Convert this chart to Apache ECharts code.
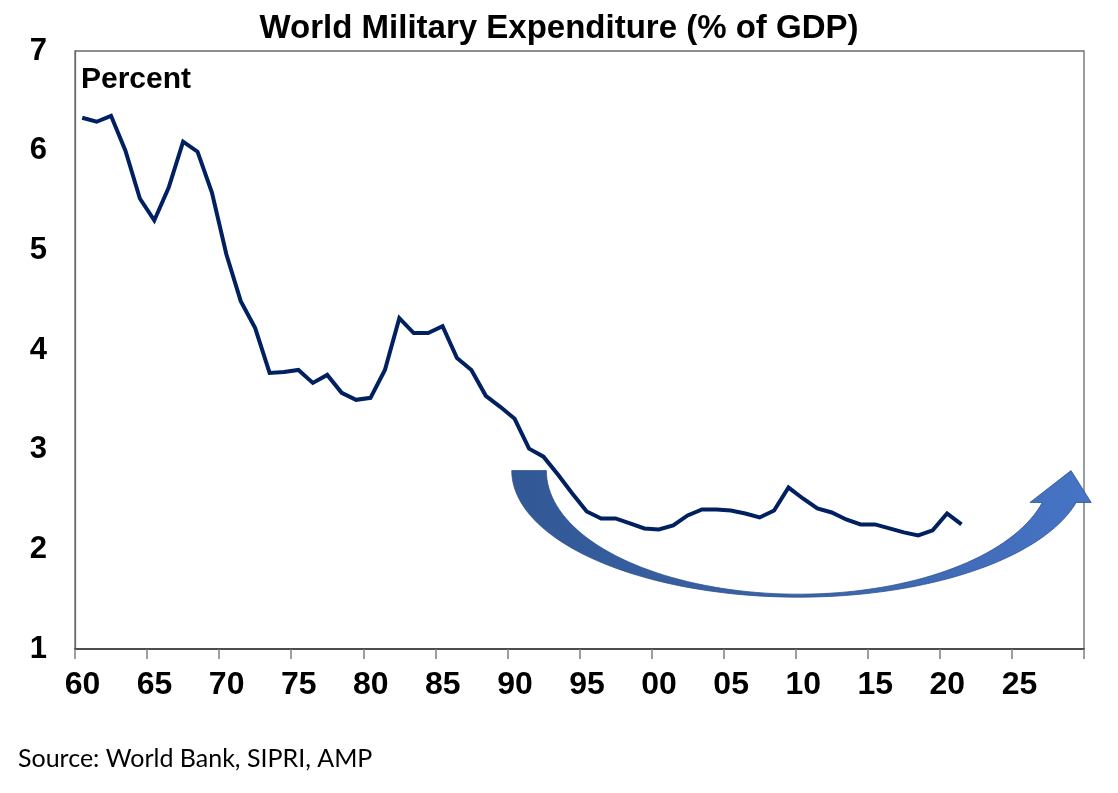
<!DOCTYPE html>
<html>
<head>
<meta charset="utf-8">
<script src="https://cdn.jsdelivr.net/npm/echarts@6/dist/echarts.min.js"></script>
<style>
  html, body { margin: 0; padding: 0; background: #ffffff; }
  #chart { width: 1118px; height: 793px; }
</style>
</head>
<body>
<div id="chart"></div>
<script>
// ---- data ----
const years = [1960,1961,1962,1963,1964,1965,1966,1967,1968,1969,
               1970,1971,1972,1973,1974,1975,1976,1977,1978,1979,
               1980,1981,1982,1983,1984,1985,1986,1987,1988,1989,
               1990,1991,1992,1993,1994,1995,1996,1997,1998,1999,
               2000,2001,2002,2003,2004,2005,2006,2007,2008,2009,
               2010,2011,2012,2013,2014,2015,2016,2017,2018,2019,
               2020,2021];
const milexPctGdp = [6.33,6.29,6.35,6.00,5.52,5.30,5.63,6.09,5.99,5.58,
                     4.96,4.49,4.22,3.77,3.78,3.80,3.67,3.75,3.57,3.50,
                     3.52,3.80,4.32,4.17,4.17,4.24,3.92,3.80,3.54,3.43,
                     3.31,3.01,2.93,2.75,2.56,2.38,2.31,2.31,2.26,2.21,
                     2.20,2.24,2.34,2.40,2.40,2.39,2.36,2.32,2.39,2.62,
                     2.51,2.41,2.37,2.30,2.25,2.25,2.21,2.17,2.14,2.19,
                     2.36,2.25];
const xTickLabels = ['60','65','70','75','80','85','90','95','00','05','10','15','20','25',''];
const yTickLabels = ['1','2','3','4','5','6','7'];

// curved-arrow annotation, in data units (year, percent)
const arrowCenter = [2010.2, 2.79];
const arrowOuterRadius = [19.9, 1.27];
const arrowInnerRadius = [17.5, 1.24];
const arrowEndLevel = 2.47;
const arrowHead = { left: 2026.25, right: 2030.5, tip: [2029.1, 2.79] };

const chart = echarts.init(document.getElementById('chart'), null, { renderer: 'canvas' });
const FONT = '"Liberation Sans", Arial, sans-serif';

const seriesData = years.map((y, i) => [y + 0.5, milexPctGdp[i]]);

chart.setOption({
  animation: false,
  backgroundColor: '#ffffff',
  title: [
    {
      text: 'World Military Expenditure (% of GDP)',
      left: 'center',
      top: 12,
      padding: 0,
      textStyle: { fontFamily: FONT, fontWeight: 'bold', fontSize: 33, color: '#000000' }
    },
    {
      text: 'Percent',
      left: 81,
      top: 65,
      padding: 0,
      textStyle: { fontFamily: FONT, fontWeight: 'bold', fontSize: 30, color: '#000000' }
    },
    {
      text: 'Source: World Bank, SIPRI, AMP',
      left: 18,
      top: 746,
      padding: 0,
      textStyle: { fontFamily: 'Lato, "Open Sans", sans-serif', fontWeight: 'normal', fontSize: 25, color: '#000000' }
    }
  ],
  grid: {
    left: 75, right: 34, top: 51, bottom: 144,
    show: true, borderColor: '#6b6b6b', borderWidth: 1.3, backgroundColor: 'transparent'
  },
  xAxis: {
    type: 'value',
    min: 1960, max: 2030, interval: 5,
    axisLine: { show: true, lineStyle: { color: '#4d4d4d', width: 2 } },
    axisTick: { show: true, length: 10, lineStyle: { color: '#7f7f7f', width: 1.5 } },
    splitLine: { show: false },
    axisLabel: {
      margin: 20,
      padding: [0, 0, 0, 15],
      fontFamily: FONT, fontWeight: 'bold', fontSize: 32, color: '#000000',
      showMaxLabel: true,
      formatter: v => xTickLabels[Math.round((v - 1960) / 5)]
    }
  },
  yAxis: {
    type: 'value',
    min: 1, max: 7, interval: 1,
    axisLine: { show: true, lineStyle: { color: '#6b6b6b', width: 1.3 } },
    axisTick: { show: false },
    splitLine: { show: false },
    axisLabel: {
      margin: 28,
      fontFamily: FONT, fontWeight: 'bold', fontSize: 31, color: '#000000',
      formatter: v => yTickLabels[Math.round(v - 1)]
    }
  },
  series: [{
    type: 'line',
    data: seriesData,
    showSymbol: false,
    symbol: 'none',
    z: 5,
    lineStyle: { color: '#002060', width: 4, join: 'miter' }
  }]
});

// ---- build the curved arrow in pixel space from data anchors ----
function px(p) { return chart.convertToPixel({ gridIndex: 0 }, p); }
const c = px(arrowCenter);
const ox = px([arrowCenter[0] + arrowOuterRadius[0], arrowCenter[1]])[0] - c[0];
const oy = c[1] - px([arrowCenter[0], arrowCenter[1] + arrowOuterRadius[1]])[1];
const ix = px([arrowCenter[0] + arrowInnerRadius[0], arrowCenter[1]])[0] - c[0];
const iy = c[1] - px([arrowCenter[0], arrowCenter[1] + arrowInnerRadius[1]])[1];
const endY = px([arrowCenter[0], arrowEndLevel])[1];
const dEnd = endY - c[1];
const teO = Math.asin(Math.min(1, dEnd / oy));
const teI = Math.asin(Math.min(1, dEnd / iy));
const pts = [];
const N = 80;
for (let k = 0; k <= N; k++) {
  const t = Math.PI - (Math.PI - teO) * k / N;
  pts.push([c[0] + ox * Math.cos(t), c[1] + oy * Math.sin(t)]);
}
const headR = px([arrowHead.right, arrowEndLevel]);
const headL = px([arrowHead.left, arrowEndLevel]);
const tip = px(arrowHead.tip);
pts.push(headR, tip, headL);
for (let k = 0; k <= N; k++) {
  const t = teI + (Math.PI - teI) * k / N;
  pts.push([c[0] + ix * Math.cos(t), c[1] + iy * Math.sin(t)]);
}

chart.setOption({
  graphic: [{
    type: 'polygon',
    z: 1,
    silent: true,
    shape: { points: pts },
    style: {
      fill: new echarts.graphic.LinearGradient(0, 0, 1, 0, [
        { offset: 0, color: '#325895' },
        { offset: 0.5, color: '#3a63a8' },
        { offset: 1, color: '#4674c6' }
      ]),
      stroke: '#2f528f',
      lineWidth: 0.8
    }
  }]
});
</script>
</body>
</html>
